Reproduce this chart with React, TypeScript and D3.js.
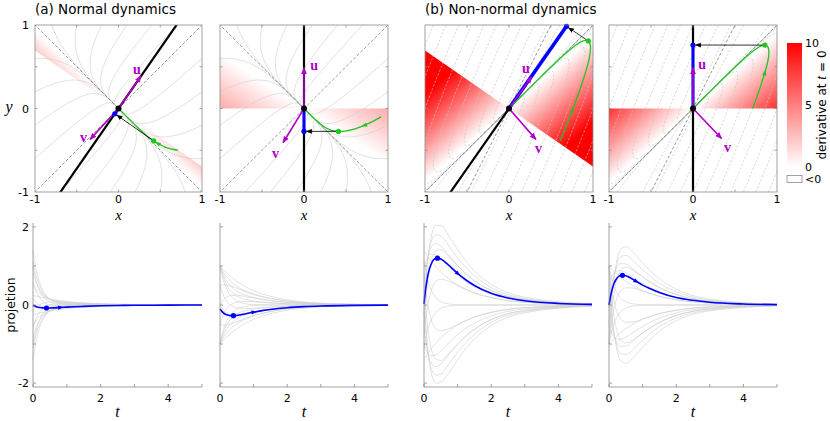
import React from 'react';
import * as d3 from 'd3';

// time samples used for the projection curves
const T_GRID = [0, 0.1, 0.2, 0.35, 0.5, 0.75, 1, 1.5, 2, 3, 5];
const T_FINE = [0, 0.05, 0.1, 0.15, 0.2, 0.3, 0.4, 0.5, 0.6, 0.8, 1, 1.25, 1.5, 2, 2.5, 3, 4, 5];

// gray projections (one row per starting point on the square), bottom panels
const GRAY_1 = [
  [-0.25, -0.226, -0.205, -0.176, -0.152, -0.118, -0.092, -0.056, -0.034, -0.013, -0.002],
  [0.16, 0.052, -0.013, -0.06, -0.077, -0.077, -0.065, -0.042, -0.025, -0.009, -0.001],
  [0.57, 0.33, 0.18, 0.056, -0.003, -0.035, -0.038, -0.027, -0.017, -0.006, -0.001],
  [0.98, 0.61, 0.373, 0.172, 0.071, 0.006, -0.012, -0.013, -0.008, -0.003, 0],
  [1.39, 0.887, 0.566, 0.288, 0.146, 0.047, 0.015, 0.001, 0, 0, 0],
  [1.105, 0.72, 0.475, 0.26, 0.147, 0.065, 0.034, 0.015, 0.008, 0.003, 0],
  [0.82, 0.556, 0.385, 0.232, 0.149, 0.083, 0.054, 0.028, 0.017, 0.006, 0.001],
  [0.535, 0.392, 0.295, 0.204, 0.15, 0.1, 0.073, 0.042, 0.025, 0.009, 0.001],
  [0.25, 0.226, 0.205, 0.176, 0.152, 0.118, 0.092, 0.056, 0.034, 0.013, 0.002],
  [-0.16, -0.052, 0.013, 0.06, 0.077, 0.077, 0.065, 0.042, 0.025, 0.009, 0.001],
  [-0.57, -0.33, -0.18, -0.056, 0.003, 0.035, 0.038, 0.027, 0.017, 0.006, 0.001],
  [-0.98, -0.61, -0.373, -0.172, -0.071, -0.006, 0.012, 0.013, 0.008, 0.003, 0],
  [-1.39, -0.887, -0.566, -0.288, -0.146, -0.047, -0.015, -0.001, 0, 0, 0],
  [-1.105, -0.72, -0.475, -0.26, -0.147, -0.065, -0.034, -0.015, -0.008, -0.003, 0],
  [-0.82, -0.556, -0.385, -0.232, -0.149, -0.083, -0.054, -0.028, -0.017, -0.006, -0.001],
  [-0.535, -0.392, -0.295, -0.204, -0.15, -0.1, -0.073, -0.042, -0.025, -0.009, -0.001],
];
const GRAY_2 = [
  [-1, -0.905, -0.819, -0.705, -0.607, -0.472, -0.368, -0.223, -0.135, -0.05, -0.007],
  [-0.5, -0.52, -0.51, -0.48, -0.43, -0.345, -0.27, -0.167, -0.101, -0.037, -0.005],
  [0, -0.134, -0.206, -0.25, -0.25, -0.22, -0.18, -0.11, -0.068, -0.025, -0.003],
  [0.5, 0.25, 0.1, -0.021, -0.073, -0.092, -0.084, -0.055, -0.034, -0.013, -0.002],
  [1, 0.638, 0.407, 0.207, 0.105, 0.034, 0.011, 0.001, 0, 0, 0],
  [1, 0.705, 0.51, 0.331, 0.231, 0.144, 0.1, 0.056, 0.034, 0.013, 0.002],
  [1, 0.772, 0.614, 0.457, 0.357, 0.253, 0.19, 0.112, 0.068, 0.025, 0.003],
  [1, 0.839, 0.716, 0.581, 0.481, 0.363, 0.279, 0.167, 0.101, 0.037, 0.005],
  [1, 0.905, 0.819, 0.705, 0.607, 0.472, 0.368, 0.223, 0.135, 0.05, 0.007],
  [0.5, 0.52, 0.51, 0.48, 0.43, 0.345, 0.27, 0.167, 0.101, 0.037, 0.005],
  [0, 0.134, 0.206, 0.25, 0.25, 0.22, 0.18, 0.11, 0.068, 0.025, 0.003],
  [-0.5, -0.25, -0.1, 0.021, 0.073, 0.092, 0.084, 0.055, 0.034, 0.013, 0.002],
  [-1, -0.638, -0.407, -0.207, -0.105, -0.034, -0.011, -0.001, 0, 0, 0],
  [-1, -0.705, -0.51, -0.331, -0.231, -0.144, -0.1, -0.056, -0.034, -0.013, -0.002],
  [-1, -0.772, -0.614, -0.457, -0.357, -0.253, -0.19, -0.112, -0.068, -0.025, -0.003],
  [-1, -0.839, -0.716, -0.581, -0.481, -0.363, -0.279, -0.167, -0.101, -0.037, -0.005],
];
const GRAY_3 = [
  [-0.24, 1.02, 1.68, 2.04, 2.04, 1.75, 1.42, 0.87, 0.53, 0.2, 0.03],
  [0.16, 1.1, 1.58, 1.8, 1.77, 1.5, 1.21, 0.75, 0.45, 0.17, 0.023],
  [0.57, 1.17, 1.46, 1.58, 1.51, 1.26, 1.01, 0.62, 0.375, 0.14, 0.019],
  [0.98, 1.22, 1.3, 1.28, 1.18, 0.96, 0.76, 0.465, 0.28, 0.1, 0.014],
  [1.39, 1.26, 1.14, 0.98, 0.84, 0.66, 0.51, 0.31, 0.19, 0.07, 0.009],
  [1.105, 0.67, 0.41, 0.19, 0.09, 0.026, 0.007, 0, 0, 0, 0],
  [0.82, 0.08, -0.33, -0.6, -0.66, -0.6, -0.5, -0.31, -0.19, -0.07, -0.009],
  [0.535, -0.5, -1.06, -1.38, -1.42, -1.23, -1.0, -0.62, -0.375, -0.14, -0.019],
  [0.24, -1.02, -1.68, -2.0, -1.98, -1.72, -1.4, -0.87, -0.53, -0.2, -0.03],
  [-0.16, -1.1, -1.58, -1.8, -1.77, -1.5, -1.21, -0.75, -0.45, -0.17, -0.023],
  [-0.57, -1.17, -1.46, -1.58, -1.51, -1.26, -1.01, -0.62, -0.375, -0.14, -0.019],
  [-0.98, -1.22, -1.3, -1.28, -1.18, -0.96, -0.76, -0.465, -0.28, -0.1, -0.014],
  [-1.39, -1.26, -1.14, -0.98, -0.84, -0.66, -0.51, -0.31, -0.19, -0.07, -0.009],
  [-1.105, -0.67, -0.41, -0.19, -0.09, -0.026, -0.007, 0, 0, 0, 0],
  [-0.82, -0.08, 0.33, 0.6, 0.66, 0.6, 0.5, 0.31, 0.19, 0.07, 0.009],
  [-0.535, 0.5, 1.06, 1.38, 1.42, 1.23, 1.0, 0.62, 0.375, 0.14, 0.019],
];
const GRAY_4 = [
  [-1, 0.29, 0.99, 1.42, 1.49, 1.32, 1.08, 0.67, 0.405, 0.15, 0.02],
  [-0.5, 0.44, 0.94, 1.24, 1.27, 1.11, 0.9, 0.557, 0.338, 0.125, 0.017],
  [0, 0.6, 0.9, 1.06, 1.05, 0.9, 0.72, 0.445, 0.27, 0.1, 0.013],
  [0.5, 0.75, 0.86, 0.88, 0.83, 0.68, 0.55, 0.335, 0.2, 0.075, 0.01],
  [1, 0.905, 0.819, 0.705, 0.607, 0.472, 0.368, 0.223, 0.135, 0.05, 0.007],
  [1, 0.607, 0.368, 0.174, 0.082, 0.024, 0.007, 0, 0, 0, 0],
  [1, 0.31, -0.08, -0.36, -0.44, -0.43, -0.36, -0.22, -0.135, -0.05, -0.007],
  [1, 0.01, -0.53, -0.89, -0.97, -0.87, -0.72, -0.446, -0.27, -0.1, -0.013],
  [1, -0.29, -0.99, -1.42, -1.49, -1.32, -1.08, -0.67, -0.405, -0.15, -0.02],
  [0.5, -0.44, -0.94, -1.24, -1.27, -1.11, -0.9, -0.557, -0.338, -0.125, -0.017],
  [0, -0.6, -0.9, -1.06, -1.05, -0.9, -0.72, -0.445, -0.27, -0.1, -0.013],
  [-0.5, -0.75, -0.86, -0.88, -0.83, -0.68, -0.55, -0.335, -0.2, -0.075, -0.01],
  [-1, -0.905, -0.819, -0.705, -0.607, -0.472, -0.368, -0.223, -0.135, -0.05, -0.007],
  [-1, -0.607, -0.368, -0.174, -0.082, -0.024, -0.007, 0, 0, 0, 0],
  [-1, -0.31, 0.08, 0.36, 0.44, 0.43, 0.36, 0.22, 0.135, 0.05, 0.007],
  [-1, -0.01, 0.53, 0.89, 0.97, 0.87, 0.72, 0.446, 0.27, 0.1, 0.013],
];

// highlighted trajectory: projection (blue) and path in the plane (green), on T_FINE
const BLUE_1 = [-0.005, -0.027, -0.044, -0.056, -0.065, -0.074, -0.077, -0.077, -0.073, -0.064, -0.054, -0.043, -0.034, -0.02, -0.012, -0.0075, -0.003, -0.001];
const BLUE_2 = [-0.1, -0.157, -0.2, -0.23, -0.251, -0.272, -0.274, -0.267, -0.253, -0.218, -0.183, -0.145, -0.114, -0.069, -0.042, -0.025, -0.009, -0.003];
const BLUE_3 = [0.03, 0.41, 0.69, 0.89, 1.02, 1.17, 1.2, 1.18, 1.12, 0.97, 0.81, 0.64, 0.5, 0.3, 0.18, 0.11, 0.04, 0.015];
const BLUE_4 = [0, 0.24, 0.42, 0.55, 0.64, 0.74, 0.76, 0.75, 0.71, 0.61, 0.51, 0.41, 0.32, 0.19, 0.12, 0.07, 0.026, 0.01];

const GREEN_1_X = [0.71, 0.659, 0.614, 0.574, 0.538, 0.475, 0.422, 0.378, 0.339, 0.275, 0.224, 0.174, 0.135, 0.082, 0.05, 0.03, 0.011, 0.004];
const GREEN_1_Y = [-0.5, -0.491, -0.48, -0.468, -0.452, -0.421, -0.388, -0.356, -0.325, -0.269, -0.222, -0.173, -0.135, -0.082, -0.05, -0.03, -0.011, -0.004];
const GREEN_2_X = [0.92, 0.813, 0.724, 0.648, 0.585, 0.484, 0.41, 0.353, 0.307, 0.24, 0.192, 0.148, 0.115, 0.069, 0.042, 0.025, 0.009, 0.003];
const GREEN_2_Y = [-0.1, -0.157, -0.2, -0.23, -0.251, -0.272, -0.274, -0.267, -0.253, -0.218, -0.183, -0.145, -0.114, -0.069, -0.042, -0.025, -0.009, -0.003];
const GREEN_3_X = [0.61, 0.752, 0.85, 0.914, 0.951, 0.97, 0.944, 0.895, 0.834, 0.705, 0.585, 0.46, 0.359, 0.217, 0.132, 0.08, 0.029, 0.011];
const GREEN_3_Y = [-0.39, -0.027, 0.243, 0.442, 0.583, 0.747, 0.809, 0.813, 0.784, 0.687, 0.579, 0.458, 0.358, 0.217, 0.132, 0.08, 0.029, 0.011];
const GREEN_4_X = [0.71, 0.797, 0.854, 0.888, 0.902, 0.894, 0.855, 0.804, 0.744, 0.625, 0.518, 0.407, 0.317, 0.19, 0.116, 0.071, 0.026, 0.01];
const GREEN_4_Y = [0, 0.244, 0.424, 0.553, 0.64, 0.735, 0.759, 0.746, 0.709, 0.612, 0.513, 0.405, 0.316, 0.19, 0.116, 0.071, 0.026, 0.01];

// flow lines in the (x, y) plane
const FLOW_NORMAL = [
  [[-0.8, 1], [-0.765, 0.909], [-0.723, 0.825], [-0.669, 0.735], [-0.61, 0.65], [-0.53, 0.55], [-0.402, 0.408], [-0.225, 0.225], [0, 0]],
  [[-0.5, 1], [-0.517, 0.878], [-0.518, 0.772], [-0.503, 0.667], [-0.475, 0.575], [-0.425, 0.475], [-0.33, 0.344], [-0.187, 0.188], [0, 0]],
  [[-0.2, 1], [-0.27, 0.846], [-0.313, 0.719], [-0.337, 0.599], [-0.34, 0.5], [-0.32, 0.4], [-0.259, 0.281], [-0.149, 0.151], [0, 0]],
  [[0.1, 1], [-0.022, 0.815], [-0.108, 0.666], [-0.171, 0.531], [-0.204, 0.426], [-0.215, 0.325], [-0.187, 0.218], [-0.111, 0.114], [0, 0]],
  [[0.4, 1], [0.226, 0.784], [0.097, 0.613], [-0.005, 0.463], [-0.069, 0.351], [-0.11, 0.25], [-0.116, 0.154], [-0.074, 0.076], [0, 0]],
  [[0.7, 1], [0.473, 0.752], [0.302, 0.56], [0.161, 0.395], [0.066, 0.276], [-0.005, 0.175], [-0.044, 0.091], [-0.036, 0.039], [0, 0]],
  [[1, 0.6], [0.763, 0.391], [0.578, 0.234], [0.418, 0.106], [0.301, 0.021], [0.2, -0.04], [0.112, -0.068], [0.052, -0.048], [0, 0]],
  [[1, 0.2], [0.805, 0.061], [0.648, -0.04], [0.508, -0.116], [0.401, -0.159], [0.3, -0.18], [0.197, -0.164], [0.101, -0.099], [0, 0]],
  [[1, -0.2], [0.846, -0.27], [0.719, -0.313], [0.599, -0.337], [0.5, -0.34], [0.4, -0.32], [0.281, -0.259], [0.151, -0.149], [0, 0]],
  [[1, -0.6], [0.888, -0.6], [0.789, -0.587], [0.689, -0.559], [0.6, -0.52], [0.5, -0.46], [0.366, -0.355], [0.2, -0.2], [0, 0]],
  [[0.8, -1], [0.765, -0.909], [0.723, -0.825], [0.669, -0.735], [0.61, -0.65], [0.53, -0.55], [0.402, -0.408], [0.225, -0.225], [0, 0]],
  [[0.5, -1], [0.517, -0.878], [0.518, -0.772], [0.503, -0.667], [0.475, -0.575], [0.425, -0.475], [0.33, -0.344], [0.187, -0.188], [0, 0]],
  [[0.2, -1], [0.27, -0.846], [0.313, -0.719], [0.337, -0.599], [0.34, -0.5], [0.32, -0.4], [0.259, -0.281], [0.149, -0.151], [0, 0]],
  [[-0.1, -1], [0.022, -0.815], [0.108, -0.666], [0.171, -0.531], [0.204, -0.426], [0.215, -0.325], [0.187, -0.218], [0.111, -0.114], [0, 0]],
  [[-0.4, -1], [-0.226, -0.784], [-0.097, -0.613], [0.005, -0.463], [0.069, -0.351], [0.11, -0.25], [0.116, -0.154], [0.074, -0.076], [0, 0]],
  [[-0.7, -1], [-0.473, -0.752], [-0.302, -0.56], [-0.161, -0.395], [-0.066, -0.276], [0.005, -0.175], [0.044, -0.091], [0.036, -0.039], [0, 0]],
  [[-1, -0.6], [-0.763, -0.391], [-0.578, -0.234], [-0.418, -0.106], [-0.301, -0.021], [-0.2, 0.04], [-0.112, 0.068], [-0.052, 0.048], [0, 0]],
  [[-1, -0.2], [-0.805, -0.061], [-0.648, 0.04], [-0.508, 0.116], [-0.401, 0.159], [-0.3, 0.18], [-0.197, 0.164], [-0.101, 0.099], [0, 0]],
  [[-1, 0.2], [-0.846, 0.27], [-0.719, 0.313], [-0.599, 0.337], [-0.5, 0.34], [-0.4, 0.32], [-0.281, 0.259], [-0.151, 0.149], [0, 0]],
  [[-1, 0.6], [-0.888, 0.6], [-0.789, 0.587], [-0.689, 0.559], [-0.6, 0.52], [-0.5, 0.46], [-0.366, 0.355], [-0.2, 0.2], [0, 0]],
];
const FLOW_NONNORMAL = [
  [[-0.9, 1], [-1.282, 0.04], [-1.515, -0.622], [-1.635, -1.086], [-1.641, -1.322], [-1.532, -1.384], [-1.226, -1.192], [-0.698, -0.696], [0, 0]],
  [[-0.75, 1], [-1.107, 0.111], [-1.328, -0.505], [-1.444, -0.938], [-1.456, -1.162], [-1.364, -1.227], [-1.094, -1.062], [-0.623, -0.621], [0, 0]],
  [[-0.6, 1], [-0.932, 0.182], [-1.14, -0.388], [-1.254, -0.792], [-1.271, -1.002], [-1.195, -1.07], [-0.961, -0.932], [-0.548, -0.547], [0, 0]],
  [[-0.45, 1], [-0.758, 0.251], [-0.953, -0.271], [-1.063, -0.644], [-1.086, -0.842], [-1.027, -0.914], [-0.829, -0.803], [-0.474, -0.472], [0, 0]],
  [[-0.3, 1], [-0.583, 0.322], [-0.765, -0.154], [-0.872, -0.496], [-0.902, -0.684], [-0.859, -0.758], [-0.697, -0.674], [-0.399, -0.397], [0, 0]],
  [[-0.15, 1], [-0.409, 0.391], [-0.578, -0.037], [-0.682, -0.35], [-0.717, -0.524], [-0.69, -0.601], [-0.564, -0.544], [-0.324, -0.323], [0, 0]],
  [[0, 1], [-0.234, 0.462], [-0.39, 0.08], [-0.491, -0.202], [-0.532, -0.364], [-0.522, -0.444], [-0.432, -0.414], [-0.249, -0.248], [0, 0]],
  [[0.15, 1], [-0.059, 0.533], [-0.203, 0.197], [-0.3, -0.054], [-0.347, -0.204], [-0.354, -0.287], [-0.3, -0.284], [-0.174, -0.173], [0, 0]],
  [[0.3, 1], [0.115, 0.602], [-0.015, 0.314], [-0.11, 0.092], [-0.162, -0.044], [-0.185, -0.13], [-0.167, -0.154], [-0.099, -0.099], [0, 0]],
  [[0.45, 1], [0.29, 0.673], [0.173, 0.431], [0.081, 0.24], [0.022, 0.115], [-0.017, 0.026], [-0.035, -0.025], [-0.025, -0.025], [0, 0]],
  [[0.6, 1], [0.464, 0.742], [0.36, 0.548], [0.272, 0.388], [0.207, 0.274], [0.151, 0.182], [0.097, 0.104], [0.05, 0.05], [0, 0]],
  [[0.9, 1], [0.814, 0.884], [0.735, 0.782], [0.653, 0.682], [0.577, 0.594], [0.488, 0.496], [0.362, 0.364], [0.2, 0.2], [0, 0]],
  [[0.9, -1], [1.282, -0.04], [1.515, 0.622], [1.635, 1.086], [1.641, 1.322], [1.532, 1.384], [1.226, 1.192], [0.698, 0.696], [0, 0]],
  [[0.75, -1], [1.107, -0.111], [1.328, 0.505], [1.444, 0.938], [1.456, 1.162], [1.364, 1.227], [1.094, 1.062], [0.623, 0.621], [0, 0]],
  [[0.6, -1], [0.932, -0.182], [1.14, 0.388], [1.254, 0.792], [1.271, 1.002], [1.195, 1.07], [0.961, 0.932], [0.548, 0.547], [0, 0]],
  [[0.45, -1], [0.758, -0.251], [0.953, 0.271], [1.063, 0.644], [1.086, 0.842], [1.027, 0.914], [0.829, 0.803], [0.474, 0.472], [0, 0]],
  [[0.3, -1], [0.583, -0.322], [0.765, 0.154], [0.872, 0.496], [0.902, 0.684], [0.859, 0.758], [0.697, 0.674], [0.399, 0.397], [0, 0]],
  [[0.15, -1], [0.409, -0.391], [0.578, 0.037], [0.682, 0.35], [0.717, 0.524], [0.69, 0.601], [0.564, 0.544], [0.324, 0.323], [0, 0]],
  [[0, -1], [0.234, -0.462], [0.39, -0.08], [0.491, 0.202], [0.532, 0.364], [0.522, 0.444], [0.432, 0.414], [0.249, 0.248], [0, 0]],
  [[-0.15, -1], [0.059, -0.533], [0.203, -0.197], [0.3, 0.054], [0.347, 0.204], [0.354, 0.287], [0.3, 0.284], [0.174, 0.173], [0, 0]],
  [[-0.3, -1], [-0.115, -0.602], [0.015, -0.314], [0.11, -0.092], [0.162, 0.044], [0.185, 0.13], [0.167, 0.154], [0.099, 0.099], [0, 0]],
  [[-0.45, -1], [-0.29, -0.673], [-0.173, -0.431], [-0.081, -0.24], [-0.022, -0.115], [0.017, -0.026], [0.035, 0.025], [0.025, 0.025], [0, 0]],
  [[-0.6, -1], [-0.464, -0.742], [-0.36, -0.548], [-0.272, -0.388], [-0.207, -0.274], [-0.151, -0.182], [-0.097, -0.104], [-0.05, -0.05], [0, 0]],
  [[-0.9, -1], [-0.814, -0.884], [-0.735, -0.782], [-0.653, -0.682], [-0.577, -0.594], [-0.488, -0.496], [-0.362, -0.364], [-0.2, -0.2], [0, 0]],
];

// per-panel geometry
const PROJ_DIR = [[0.57, 0.82], [0, 1], [0.57, 0.82], [0, 1]];
const EIGEN_NORMAL = [[1, 1], [1, -1]];
const EIGEN_NONNORMAL = [[1, 1], [1, 2]];
const SLOPE_P0 = [-0.695, 0, -0.695, 0]; // line where projection = 0
const SLOPE_DP0 = [-0.93, -0.65, 0.86, 0.88]; // line where derivative = 0
const GAIN = [12, 6, 12.7, 12]; // derivative per unit distance from that line
const U_VEC = [[0.27, 0.39], [0, 0.49], [0.27, 0.38], [0, 0.49]];
const V_VEC = [[-0.34, -0.37], [-0.25, -0.41], [0.32, -0.37], [0.34, -0.36]];
const U_LAB = [[0.22, 0.47], [0.12, 0.52], [0.2, 0.48], [0.11, 0.53]];
const V_LAB = [[-0.42, -0.34], [-0.34, -0.53], [0.35, -0.48], [0.41, -0.46]];
const GREEN_ARROW_AT = [5, 2, 1, 2];
const BLUE_ARROW_AT = [9, 10, 10, 9];
const DOT_AT = 6;

const CBAR_TICKS = [0, 5, 10];
const TOP_TICKS = [-1, 0, 1];
const BOT_XTICKS = [0, 2, 4];
const BOT_YTICKS = [-2, 0, 2];

const BLUES = [BLUE_1, BLUE_2, BLUE_3, BLUE_4];
const GRAYS = [GRAY_1, GRAY_2, GRAY_3, GRAY_4];
const GREENS = [
  [GREEN_1_X, GREEN_1_Y],
  [GREEN_2_X, GREEN_2_Y],
  [GREEN_3_X, GREEN_3_Y],
  [GREEN_4_X, GREEN_4_Y],
];

const TOP_X = [[35, 202], [220, 388], [425, 593], [609, 777]];
const BOT_X = [[33, 202], [220, 388], [424, 592], [609, 777]];
const SANS = 'DejaVu Sans, sans-serif';
const SERIF = 'Liberation Serif, DejaVu Serif, serif';
const PURPLE = '#b000c8';
const GREEN = '#22c422';
const BLUE = '#0000ff';
const FRAME = '#8a8a8a';

function arrowHead(px: number, py: number, qx: number, qy: number, size: number) {
  const a = (Math.atan2(qy - py, qx - px) * 180) / Math.PI;
  return { transform: `translate(${px},${py}) rotate(${a})`, d: `M${size},0 L${-size * 0.6},${-size * 0.6} L${-size * 0.6},${size * 0.6} Z` };
}

function TopPanel({ i }: { i: number }) {
  const xs = d3.scaleLinear().domain([-1, 1]).range(TOP_X[i]);
  const ys = d3.scaleLinear().domain([-1, 1]).range([192, 25]);
  const clip = `clipTop${i}`;
  const line = d3.line<number[]>().x((p) => xs(p[0])).y((p) => ys(p[1])).curve(d3.curveCatmullRom.alpha(0.5));
  const flows = i < 2 ? FLOW_NORMAL : FLOW_NONNORMAL;
  const eig = i < 2 ? EIGEN_NORMAL : EIGEN_NONNORMAL;
  const dir = PROJ_DIR[i];
  const m1 = SLOPE_P0[i];
  const m2 = SLOPE_DP0[i];
  const nl = Math.hypot(m2, 1);
  const wedges = [-1, 1].map((s) => {
    const pts = [[0, 0], [s, s * m1], [s, s * m2]];
    const cx = s;
    const cy = (s * (m1 + m2)) / 2;
    let nx = m2 / nl;
    let ny = -1 / nl;
    if (nx * cx + ny * cy < 0) { nx = -nx; ny = -ny; }
    const d = 10 / GAIN[i];
    return { id: `wg${i}${s > 0 ? 'r' : 'l'}`, pts, x2: xs(nx * d), y2: ys(ny * d) };
  });
  const [gx, gy] = GREENS[i];
  const green = gx.map((x, k) => [x, gy[k]]);
  const p = BLUES[i][DOT_AT];
  const bp = [p * dir[0], p * dir[1]];
  const gp = green[DOT_AT];
  const ga = GREEN_ARROW_AT[i];
  const gh = arrowHead(xs(green[ga][0]), ys(green[ga][1]), xs(green[ga + 1][0]), ys(green[ga + 1][1]), 3.5);
  // black arrow from green point to its projection
  const ax1 = xs(gp[0]), ay1 = ys(gp[1]), ax2 = xs(bp[0]), ay2 = ys(bp[1]);
  const al = Math.hypot(ax2 - ax1, ay2 - ay1);
  const ex = ax2 - ((ax2 - ax1) / al) * 2.5, ey = ay2 - ((ay2 - ay1) / al) * 2.5;
  const minor = [-0.5, 0, 0.5];
  return (
    <g>
      <defs>
        <clipPath id={clip}><rect x={xs(-1)} y={ys(1)} width={xs(1) - xs(-1)} height={ys(-1) - ys(1)} /></clipPath>
        {wedges.map((w) => (
          <linearGradient key={w.id} id={w.id} gradientUnits="userSpaceOnUse" x1={xs(0)} y1={ys(0)} x2={w.x2} y2={w.y2}>
            <stop offset="0" stopColor="#ffffff" />
            <stop offset="1" stopColor="#ff0000" />
          </linearGradient>
        ))}
      </defs>
      <g clipPath={`url(#${clip})`}>
        {wedges.map((w) => (
          <polygon key={w.id} points={w.pts.map((q) => `${xs(q[0])},${ys(q[1])}`).join(' ')} fill={`url(#${w.id})`} />
        ))}
        {flows.map((f, k) => (
          <path key={k} d={line(f) || ''} fill="none" stroke={i < 2 ? '#cdcdcd' : '#c4c4c4'} strokeWidth={0.6} strokeDasharray={i < 2 ? undefined : '2.5,1.5'} />
        ))}
        {eig.map((e, k) => (
          <line key={k} x1={xs(-3 * e[0])} y1={ys(-3 * e[1])} x2={xs(3 * e[0])} y2={ys(3 * e[1])} stroke="#555" strokeWidth={0.6} strokeDasharray="3,2" />
        ))}
        <line x1={xs(-2 * dir[0])} y1={ys(-2 * dir[1])} x2={xs(2 * dir[0])} y2={ys(2 * dir[1])} stroke="#000" strokeWidth={2.2} />
        <line x1={xs(0)} y1={ys(0)} x2={xs(bp[0])} y2={ys(bp[1])} stroke={BLUE} strokeWidth={i === 2 ? 3.6 : 3} />
        <path d={line(green) || ''} fill="none" stroke={GREEN} strokeWidth={1.3} />
      </g>
      <path transform={gh.transform} d={gh.d} fill={GREEN} />
      <line x1={ax1} y1={ay1} x2={ex} y2={ey} stroke="#000" strokeWidth={0.8} markerEnd="url(#mkBlack)" />
      <line x1={xs(0)} y1={ys(0)} x2={xs(U_VEC[i][0])} y2={ys(U_VEC[i][1])} stroke={PURPLE} strokeWidth={1.6} markerEnd="url(#mkPurple)" />
      <line x1={xs(0)} y1={ys(0)} x2={xs(V_VEC[i][0])} y2={ys(V_VEC[i][1])} stroke={PURPLE} strokeWidth={1.6} markerEnd="url(#mkPurple)" />
      <text x={xs(U_LAB[i][0])} y={ys(U_LAB[i][1])} fill={PURPLE} fontFamily={SERIF} fontWeight="bold" fontSize={14} textAnchor="middle" dy="0.35em">u</text>
      <text x={xs(V_LAB[i][0])} y={ys(V_LAB[i][1])} fill={PURPLE} fontFamily={SERIF} fontWeight="bold" fontSize={14} textAnchor="middle" dy="0.35em">v</text>
      <circle cx={xs(gp[0])} cy={ys(gp[1])} r={2.6} fill={GREEN} />
      <circle cx={xs(bp[0])} cy={ys(bp[1])} r={2.6} fill={BLUE} />
      <circle cx={xs(0)} cy={ys(0)} r={3} fill="#000" />
      <rect x={xs(-1)} y={ys(1)} width={xs(1) - xs(-1)} height={ys(-1) - ys(1)} fill="none" stroke={FRAME} strokeWidth={0.8} />
      {minor.map((t) => (
        <g key={t} stroke={FRAME} strokeWidth={0.8}>
          <line x1={xs(t)} x2={xs(t)} y1={ys(-1)} y2={ys(-1) - 2.5} />
          <line x1={xs(t)} x2={xs(t)} y1={ys(1)} y2={ys(1) + 2.5} />
          <line y1={ys(t)} y2={ys(t)} x1={xs(-1)} x2={xs(-1) + 2.5} />
          <line y1={ys(t)} y2={ys(t)} x1={xs(1)} x2={xs(1) - 2.5} />
        </g>
      ))}
      {TOP_TICKS.map((t) => (
        <text key={t} x={xs(t)} y={203} fontFamily={SANS} fontSize={11} textAnchor="middle">{t}</text>
      ))}
      <text x={(xs(-1) + xs(1)) / 2} y={220} fontFamily={SERIF} fontStyle="italic" fontSize={15} textAnchor="middle">x</text>
      {i === 0 && TOP_TICKS.map((t) => (
        <text key={t} x={29} y={ys(t) + 4} fontFamily={SANS} fontSize={11} textAnchor="end">{t}</text>
      ))}
      {i === 0 && <text x={9} y={ys(0) + 3} fontFamily={SERIF} fontStyle="italic" fontSize={16} textAnchor="middle">y</text>}
    </g>
  );
}

function BottomPanel({ i }: { i: number }) {
  const xs = d3.scaleLinear().domain([0, 5]).range(BOT_X[i]);
  const ys = d3.scaleLinear().domain([-2.1, 2.1]).range([387, 223]);
  const line = d3.line<number>().x((_, k) => xs(T_GRID[k])).y((v) => ys(v)).curve(d3.curveMonotoneX);
  const fine = d3.line<number>().x((_, k) => xs(T_FINE[k])).y((v) => ys(v)).curve(d3.curveMonotoneX);
  const blue = BLUES[i];
  const ba = BLUE_ARROW_AT[i];
  const bh = arrowHead(xs(T_FINE[ba]), ys(blue[ba]), xs(T_FINE[ba + 1]), ys(blue[ba + 1]), 3.5);
  return (
    <g>
      {GRAYS[i].map((row, k) => (
        <path key={k} d={line(row) || ''} fill="none" stroke="#cfcfcf" strokeWidth={0.6} />
      ))}
      <path d={fine(blue) || ''} fill="none" stroke={BLUE} strokeWidth={1.6} />
      <path transform={bh.transform} d={bh.d} fill={BLUE} />
      <circle cx={xs(T_FINE[DOT_AT])} cy={ys(blue[DOT_AT])} r={2.6} fill={BLUE} />
      <g stroke={FRAME} strokeWidth={0.8}>
        <line x1={xs(0)} x2={xs(0)} y1={ys(-2.1)} y2={ys(2.1)} />
        <line x1={xs(0)} x2={xs(5)} y1={ys(-2.1)} y2={ys(-2.1)} />
        {[0, 1, 2, 3, 4, 5].map((t) => (
          <line key={t} x1={xs(t)} x2={xs(t)} y1={ys(-2.1)} y2={ys(-2.1) - 3} />
        ))}
        {[-2, -1, 0, 1, 2].map((t) => (
          <line key={t} x1={xs(0)} x2={xs(0) + 3} y1={ys(t)} y2={ys(t)} />
        ))}
      </g>
      {BOT_XTICKS.map((t) => (
        <text key={t} x={xs(t)} y={402} fontFamily={SANS} fontSize={11} textAnchor="middle">{t}</text>
      ))}
      <text x={(xs(0) + xs(5)) / 2} y={417} fontFamily={SERIF} fontStyle="italic" fontSize={16} textAnchor="middle">t</text>
      {i === 0 && BOT_YTICKS.map((t) => (
        <text key={t} x={29} y={ys(t) + 4} fontFamily={SANS} fontSize={11} textAnchor="end">{t}</text>
      ))}
    </g>
  );
}

function ColorBar() {
  const cs = d3.scaleLinear().domain([0, 10]).range([167, 43]);
  return (
    <g>
      <defs>
        <linearGradient id="cbar" x1="0" y1="1" x2="0" y2="0">
          <stop offset="0" stopColor="#ffffff" />
          <stop offset="1" stopColor="#ff0000" />
        </linearGradient>
      </defs>
      <rect x={787} y={cs(10)} width={15} height={cs(0) - cs(10)} fill="url(#cbar)" />
      {CBAR_TICKS.map((t) => (
        <text key={t} x={805} y={cs(t) + 4} fontFamily={SANS} fontSize={11}>{t}</text>
      ))}
      <rect x={787} y={175.5} width={15} height={7} fill="#fff" stroke={FRAME} strokeWidth={0.8} />
      <text x={805} y={183} fontFamily={SANS} fontSize={11}>{'<0'}</text>
      <text transform="translate(826,105) rotate(-90)" fontFamily={SANS} fontSize={12} textAnchor="middle">
        derivative at <tspan fontFamily={SERIF} fontStyle="italic" fontSize={14}>t</tspan> = 0
      </text>
    </g>
  );
}

export default function App() {
  return (
    <svg width={830} height={421} style={{ position: 'absolute', left: 0, top: 0, background: '#fff' }}>
      <defs>
        <marker id="mkBlack" viewBox="0 0 10 10" refX="9" refY="5" markerWidth="6" markerHeight="6" orient="auto" markerUnits="userSpaceOnUse">
          <path d="M0,1 L10,5 L0,9 Z" fill="#000" />
        </marker>
        <marker id="mkPurple" viewBox="0 0 10 10" refX="9" refY="5" markerWidth="7" markerHeight="7" orient="auto" markerUnits="userSpaceOnUse">
          <path d="M0,1 L10,5 L0,9 Z" fill={PURPLE} />
        </marker>
      </defs>
      <rect x={0} y={0} width={830} height={421} fill="#fff" />
      <text x={35} y={14} fontFamily={SANS} fontSize={13.5}>(a) Normal dynamics</text>
      <text x={425} y={14} fontFamily={SANS} fontSize={13.5}>(b) Non-normal dynamics</text>
      {[0, 1, 2, 3].map((i) => <TopPanel key={i} i={i} />)}
      {[0, 1, 2, 3].map((i) => <BottomPanel key={i} i={i} />)}
      <text transform="translate(15,305) rotate(-90)" fontFamily={SANS} fontSize={12.5} textAnchor="middle">projetion</text>
      <ColorBar />
    </svg>
  );
}
